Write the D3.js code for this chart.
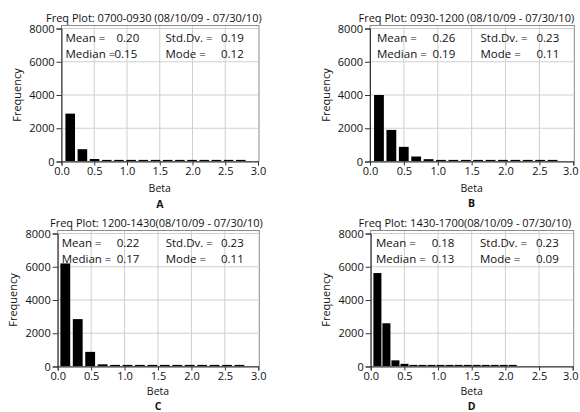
<!DOCTYPE html>
<html><head><meta charset="utf-8">
<script src="https://cdn.jsdelivr.net/npm/d3@7"></script>
<style>body{margin:0;background:#fff}svg{display:block}text{font-family:"Open Sans",sans-serif;fill:#111}</style>
</head><body><svg id="c" width="580" height="412"></svg>
<script>
// ---------- data ----------
const panelLetters = ["A", "B", "C", "D"];
const titles = [
  "Freq Plot: 0700-0930 (08/10/09 - 07/30/10)",
  "Freq Plot: 0930-1200 (08/10/09 - 07/30/10)",
  "Freq Plot: 1200-1430(08/10/09 - 07/30/10)",
  "Freq Plot: 1430-1700(08/10/09 - 07/30/10)"
];
const countsA = [2880, 740, 150, 80, 30, 30, 30, 30, 30, 30, 30, 30, 30, 30, 30];
const countsB = [4000, 1900, 880, 300, 140, 30, 30, 30, 30, 30, 30, 30, 30, 30, 30];
const countsC = [6200, 2850, 880, 130, 80, 30, 30, 30, 30, 30, 30, 30, 30, 30, 30];
const countsD = [5620, 2600, 370, 160, 90, 90, 80, 40, 40, 80, 80, 80, 50, 50, 40, 30];
const binStarts = [0.06, 0.06, 0.04, 0.04];
const binWidths = [0.186, 0.183, 0.186, 0.134];
const meanVals = ["0.20", "0.26", "0.22", "0.18"];
const medianVals = ["0.15", "0.19", "0.17", "0.13"];
const stdVals = ["0.19", "0.23", "0.23", "0.23"];
const modeVals = ["0.12", "0.11", "0.11", "0.09"];
const xTickVals = [0, 0.5, 1.0, 1.5, 2.0, 2.5, 3.0];
const yTickVals = [0, 2000, 4000, 6000, 8000];
const xLabel = "Beta";
const yLabel = "Frequency";

// ---------- layout (positions only) ----------
const layout = [
  {x0: 61.5, x1: 258, yT: 28.5, y0: 161.5, gap: 2.6, tX: 46, mL: 4, mV: 55, mdV: 53, sL: 104, sV: 159.5, letterDy: 46.5, betaDy: 30.5},
  {x0: 370, x1: 573.3, yT: 28.5, y0: 161.5, gap: 2.6, tX: 358.5, mL: 7, mV: 62.5, mdV: 62.5, sL: 110.5, sV: 166.5, letterDy: 45.5, betaDy: 30},
  {x0: 57.7, x1: 258.3, yT: 233.5, y0: 366.5, gap: 2.6, tX: 50, mL: 4, mV: 59, mdV: 59, sL: 108, sV: 163.3, letterDy: 43, betaDy: 28.5},
  {x0: 370.7, x1: 572.7, yT: 233.5, y0: 366.5, gap: 1, tX: 358.5, mL: 5.3, mV: 61, mdV: 61, sL: 109.3, sV: 165.3, letterDy: 43, betaDy: 28.5}
];

const allCounts = [countsA, countsB, countsC, countsD];
const svg = d3.select("#c");

allCounts.forEach((counts, p) => {
  const L = layout[p];
  const x = d3.scaleLinear().domain([0, 3]).range([L.x0, L.x1]);
  const y = d3.scaleLinear().domain([0, 8000]).range([L.y0, L.yT]);
  const g = svg.append("g");

  // grid
  g.selectAll(".vg").data(xTickVals.slice(1, -1)).join("line")
    .attr("x1", d => x(d)).attr("x2", d => x(d)).attr("y1", L.yT - 3).attr("y2", L.y0)
    .attr("stroke", "#cfcfcf").attr("stroke-width", 1);
  g.selectAll(".hg").data(yTickVals.slice(1)).join("line")
    .attr("x1", L.x0).attr("x2", L.x1).attr("y1", d => y(d)).attr("y2", d => y(d))
    .attr("stroke", "#cfcfcf").attr("stroke-width", 1);

  // bars
  g.selectAll(".bar").data(counts).join("rect")
    .attr("x", (d, i) => x(binStarts[p] + i * binWidths[p]))
    .attr("width", (d, i) => x(binStarts[p] + (i + 1) * binWidths[p]) - x(binStarts[p] + i * binWidths[p]) - L.gap)
    .attr("y", d => Math.min(y(d), L.y0 - 1.6))
    .attr("height", d => Math.max(L.y0 - y(d), 1.6))
    .attr("fill", "#000");

  // frame border
  g.append("rect").attr("x", L.x0).attr("y", L.yT - 3).attr("width", L.x1 - L.x0 + 1)
    .attr("height", L.y0 - L.yT + 3).attr("fill", "none").attr("stroke", "#8a8a8a").attr("stroke-width", 1);

  // axes
  const xa = g.append("g").attr("transform", `translate(0,${L.y0})`)
    .call(d3.axisBottom(x).tickValues(xTickVals).tickFormat(d3.format(".1f")).tickSize(4).tickPadding(2));
  const ya = g.append("g").attr("transform", `translate(${L.x0},0)`)
    .call(d3.axisLeft(y).tickValues(yTickVals).tickFormat(d3.format("d")).tickSize(5).tickPadding(2));
  [xa, ya].forEach(a => {
    a.select(".domain").attr("stroke", "#333");
    a.selectAll(".tick line").attr("stroke", "#333");
    a.selectAll("text").style("font-family", '"Open Sans",sans-serif').style("font-size", "11px").attr("fill", "#111");
  });
  // keep the last x tick label inside the page
  xa.selectAll(".tick text").each(function(d) {
    const bb = this.getBBox();
    const right = x(d) + bb.x + bb.width;
    if (right > 578) d3.select(this).attr("dx", 578 - right);
  });

  // title
  g.append("text").attr("x", L.tX).attr("y", L.yT - 7).attr("font-size", 11).text(titles[p]);

  // stats
  const r1 = L.yT + 13.5, r2 = L.yT + 29.5;
  const st = (xx, yy, t) => g.append("text").attr("x", xx).attr("y", yy).attr("font-size", 11.5).text(t);
  st(L.x0 + L.mL, r1, "Mean =");
  st(L.x0 + L.mV, r1, meanVals[p]);
  st(L.x0 + L.mL, r2, "Median =");
  st(L.x0 + L.mdV, r2, medianVals[p]);
  st(L.x0 + L.sL, r1, "Std.Dv. =");
  st(L.x0 + L.sV, r1, stdVals[p]);
  st(L.x0 + L.sL, r2, "Mode =");
  st(L.x0 + L.sV, r2, modeVals[p]);

  // axis labels
  const cx = (L.x0 + L.x1) / 2;
  g.append("text").attr("x", cx).attr("y", L.y0 + L.betaDy).attr("text-anchor", "middle").attr("font-size", 10.5).text(xLabel);
  g.append("text").attr("transform", `translate(${L.x0 - 40.5},${(L.yT + L.y0) / 2}) rotate(-90)`)
    .attr("text-anchor", "middle").attr("font-size", 11).text(yLabel);
  g.append("text").attr("x", cx).attr("y", L.y0 + L.letterDy).attr("text-anchor", "middle")
    .attr("font-size", 10.5).attr("font-weight", "bold").text(panelLetters[p]);
});
</script></body></html>
